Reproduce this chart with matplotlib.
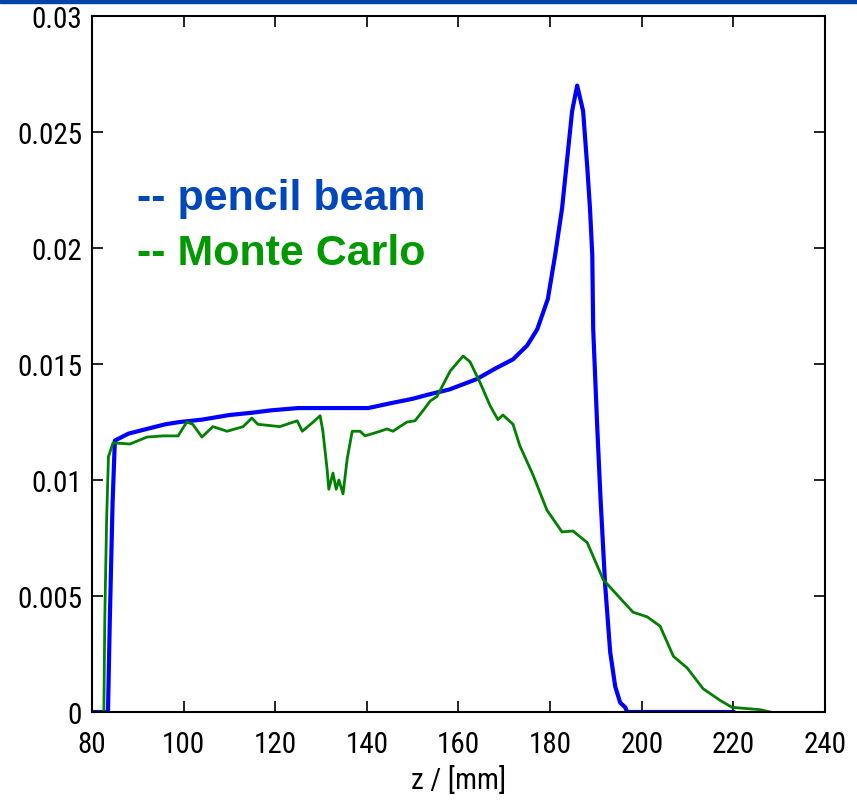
import numpy as np
import matplotlib
matplotlib.use('Agg')
import matplotlib.pyplot as plt
from matplotlib.patches import Rectangle

# pencil beam depth-dose
pb_z = [80, 83.5, 83.9, 84.5, 85.0, 88, 92, 96, 99.2, 104, 110, 115, 119,
        125, 130, 135, 140.3, 145, 150, 153.8, 158, 164, 168, 171.9, 175,
        177.2, 179.5, 181.1, 182.6, 183.7, 184.8, 185.9, 187.2, 188.1, 188.7,
        189.2, 189.4, 190.3, 191.0, 192.0, 193.1, 194.2, 195.3, 196.4, 196.8,
        205, 220]
pb_d = [0, 0, 0.004, 0.009, 0.0117, 0.0120, 0.0122, 0.0124, 0.0125, 0.0126,
        0.0128, 0.0129, 0.0130, 0.0131, 0.0131, 0.0131, 0.0131, 0.0133,
        0.0135, 0.0137, 0.0139, 0.01435, 0.0148, 0.0152, 0.0158, 0.0165,
        0.0178, 0.0197, 0.0217, 0.0238, 0.0259, 0.0270, 0.0259, 0.0235,
        0.0217, 0.0197, 0.0165, 0.0122, 0.0092, 0.0055, 0.0026, 0.0011,
        0.0004, 0.0002, 0, 0, 0]

# Monte Carlo depth-dose
mc_z = [80, 82.6, 82.8, 83.2, 83.6, 84.6, 88.3, 92, 95.5, 98.8, 100.7, 102,
        104, 106.4, 109.5, 113, 114.9, 116.2, 121, 124.8, 125.9, 128.3, 129.8,
        130.4, 131.3, 131.7, 132.6, 133.3, 133.9, 134.8, 135.7, 136.8, 138.5,
        139.6, 142.9, 144.4, 145.7, 147.2, 148.8, 150.5, 152.3, 153.8, 155.3,
        158.2, 161, 162.5, 164.7, 166.9, 168.6, 169.7, 171.9, 173.4, 176.3,
        179.3, 182.6, 185, 188.1, 191.6, 195.3, 198.1, 201.2, 204, 206.9,
        209.9, 213.4, 217.1, 219.7, 225.8, 228]
mc_d = [0, 0, 0.004, 0.0083, 0.0110, 0.0116, 0.01155, 0.01185, 0.0119,
        0.0119, 0.0125, 0.0124, 0.01185, 0.0123, 0.0121, 0.0123, 0.01267,
        0.0124, 0.0123, 0.01255, 0.0121, 0.0125, 0.01277, 0.0121, 0.0105,
        0.0096, 0.0103, 0.0096, 0.0100, 0.0094, 0.0109, 0.0121, 0.0121,
        0.0119, 0.0121, 0.0122, 0.0121, 0.0123, 0.0125, 0.01255, 0.0130,
        0.0134, 0.0136, 0.0147, 0.01534, 0.0151, 0.0142, 0.0132, 0.0126,
        0.0128, 0.0124, 0.01147, 0.0102, 0.0087, 0.00776, 0.0078, 0.0073,
        0.0057, 0.0049, 0.0043, 0.0041, 0.0037, 0.0024, 0.0019, 0.0010,
        0.0005, 0.0002, 0.0001, 0]

xticks = [80, 100, 120, 140, 160, 180, 200, 220, 240]
yticks = [0, 0.005, 0.01, 0.015, 0.02, 0.025, 0.03]
ytick_labels = ['0', '0.005', '0.01', '0.015', '0.02', '0.025', '0.03']

plt.rcParams['font.family'] = ['Liberation Sans Narrow', 'DejaVu Sans Condensed',
                               'Roboto Condensed', 'DejaVu Sans']

fig = plt.figure(figsize=(8.57, 8.04), dpi=100)
fig.patches.append(Rectangle((0, 0.9955), 1, 0.0045, transform=fig.transFigure,
                             color='#0044aa', zorder=5))
ax = fig.add_axes([0.1073, 0.1132, 0.8554, 0.8657])

ax.plot(pb_z, pb_d, color='#0000ff', linewidth=3.0)
ax.plot(mc_z, mc_d, color='#008000', linewidth=2.0)

ax.set_xlim(80, 240)
ax.set_ylim(0, 0.03)
ax.set_xticks(xticks)
ax.set_xticklabels([str(t) for t in xticks])
ax.set_yticks(yticks)
ax.set_yticklabels(ytick_labels)
ax.tick_params(direction='in', length=8, width=1.2, top=True, right=True,
               labelsize=21)
ax.tick_params(axis='x', pad=13)
ax.tick_params(axis='y', pad=7)
for s in ax.spines.values():
    s.set_linewidth(1.5)
ax.set_xlabel('z / [mm]', fontsize=21, labelpad=5)

ax.text(0.0615, 0.739, '-- pencil beam', transform=ax.transAxes,
        fontsize=31, fontweight='bold', color='#0047bb',
        family=['Liberation Sans', 'DejaVu Sans'], va='center')
ax.text(0.0615, 0.659, '-- Monte Carlo', transform=ax.transAxes,
        fontsize=31, fontweight='bold', color='#009900',
        family=['Liberation Sans', 'DejaVu Sans'], va='center')

fig.savefig('out.png', dpi=100)
